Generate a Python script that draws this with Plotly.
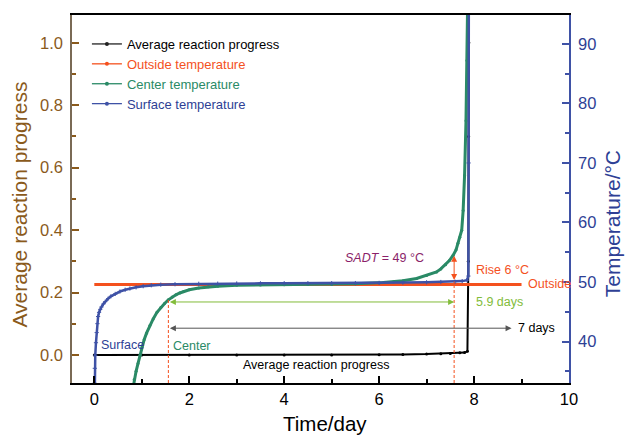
import plotly.graph_objects as go

# ---------------- data ----------------
time_progress = [0, 1, 2, 3, 4, 5, 6, 6.5, 7, 7.3, 7.5, 7.7, 7.8, 7.86, 7.88, 7.885, 7.89]
progress      = [0, 0, 0, 0, 0, 0.0005, 0.001, 0.002, 0.003, 0.004, 0.005, 0.007, 0.008, 0.012, 0.3, 0.7, 1.0]

time_outside = [0, 9.0]
temp_outside = [49.6, 49.6]

time_center = [0.8, 0.84, 0.88, 0.92, 0.96, 1.0, 1.05, 1.1, 1.17, 1.24, 1.32, 1.4, 1.48, 1.56, 1.64, 1.72,
               1.8, 1.88, 2.0, 2.2, 2.4, 2.6, 3.0, 3.5, 4.0, 4.5, 5.0, 5.5, 6.09, 6.3, 6.5, 6.79,
               7.0, 7.21, 7.3, 7.4, 7.48, 7.56, 7.62, 7.66, 7.7, 7.74, 7.77, 7.8, 7.83, 7.85, 7.87]
temp_center = [31.5, 33.6, 35.0, 36.3, 37.7, 39.0, 40.3, 41.4, 42.7, 43.8, 44.9, 45.7, 46.4, 47.0, 47.5, 47.85,
               48.15, 48.4, 48.7, 49.0, 49.2, 49.3, 49.45, 49.5, 49.55, 49.58, 49.6, 49.7, 49.9, 50.0, 50.2, 50.6,
               51.1, 51.7, 52.2, 52.9, 53.6, 54.5, 55.4, 56.5, 57.5, 58.7, 62.0, 67.9, 77.1, 87.2, 100.0]

time_surface = [0, 0.005, 0.01, 0.02, 0.035, 0.05, 0.065, 0.08, 0.1, 0.125, 0.15, 0.19, 0.23, 0.29, 0.35,
                0.44, 0.54, 0.65, 0.75, 0.88, 1.03, 1.2, 1.4, 1.7, 2.2, 2.6, 3.0, 3.5, 4.0, 4.5, 5.0, 5.5,
                6.0, 6.5, 7.0, 7.3, 7.6, 7.75, 7.85, 7.88, 7.885, 7.89]
temp_surface = [25.0, 33.0, 35.5, 37.7, 39.8, 41.5, 43.0, 44.2, 44.9, 45.4, 45.8, 46.3, 46.7, 47.2, 47.6,
                48.0, 48.4, 48.7, 48.9, 49.1, 49.3, 49.45, 49.55, 49.63, 49.7, 49.72, 49.75, 49.77, 49.8, 49.8, 49.8, 49.82,
                49.85, 49.9, 49.95, 50.0, 50.05, 50.15, 50.3, 51.0, 70.0, 100.0]

x_ticks = [0, 2, 4, 6, 8, 10]
left_ticks = [0.0, 0.2, 0.4, 0.6, 0.8, 1.0]
right_ticks = [40, 50, 60, 70, 80, 90]

# annotation anchors (data units)
day_start = 1.56
day_sadt = 7.58
day_seven_end = 8.79
temp_center_at_start = 47.0
temp_rise_low = 50.1
temp_rise_high = 54.4
arrow59_level = 0.170
arrow7_level = 0.086

# ---------------- styling ----------------
FONT = "Liberation Sans, Arial, Helvetica, sans-serif"
BROWN = "#8a5a1c"
BLUE = "#2e3f95"
BLUE_LINE = "#3f52a6"
RED = "#f4511e"
GREEN = "#2a8a66"
LGREEN = "#82bc3a"
PURPLE = "#8b1f6a"

X_RANGE = [-0.47, 10.0]
Y_RANGE = [-0.0895, 1.089]
Y2_RANGE = [33.03, 94.86]

fig = go.Figure()

fig.add_trace(go.Scatter(
    x=time_progress, y=progress, yaxis="y", mode="lines+markers", showlegend=False,
    line=dict(color="black", width=2), marker=dict(size=3, color="black")))
fig.add_trace(go.Scatter(
    x=time_outside, y=temp_outside, yaxis="y2", mode="lines", showlegend=False,
    line=dict(color=RED, width=3)))
fig.add_trace(go.Scatter(
    x=time_center, y=temp_center, yaxis="y2", mode="lines+markers", showlegend=False,
    line=dict(color=GREEN, width=3), marker=dict(size=3, color=GREEN)))
fig.add_trace(go.Scatter(
    x=time_surface, y=temp_surface, yaxis="y2", mode="lines+markers", showlegend=False,
    line=dict(color=BLUE_LINE, width=2.5), marker=dict(size=3, color=BLUE_LINE, symbol="cross-thin",
                                                     line=dict(width=1, color=BLUE_LINE))))

# legend entries (thin line with a dot, as in the reference)
legend_items = [("Average reaction progress", "#222222", "black"),
                ("Outside temperature", RED, RED),
                ("Center temperature", GREEN, GREEN),
                ("Surface temperature", BLUE_LINE, BLUE)]
for name, lc, tc in legend_items:
    fig.add_trace(go.Scatter(
        x=[None], y=[None], mode="lines+markers",
        name=f'<span style="color:{tc}">{name}</span>',
        line=dict(color=lc, width=1.3), marker=dict(size=4, color=lc)))

# dashed guide lines
fig.add_shape(type="line", xref="x", yref="y2", x0=day_start, x1=day_start,
              y0=Y2_RANGE[0], y1=temp_center_at_start,
              line=dict(color=RED, width=1, dash="3px,2px"))
fig.add_shape(type="line", xref="x", yref="y2", x0=day_sadt, x1=day_sadt,
              y0=Y2_RANGE[0], y1=temp_rise_low,
              line=dict(color=RED, width=1, dash="3px,2px"))

anns = []
def darrow(x0, y0, x1, y1, yref, color):
    return dict(x=x1, y=y1, ax=x0, ay=y0, xref="x", yref=yref, axref="x", ayref=yref,
                text="", showarrow=True, arrowside="end+start", arrowhead=2,
                arrowsize=1.2, arrowwidth=1, arrowcolor=color, standoff=0, startstandoff=0)

anns.append(darrow(day_start, arrow59_level, day_sadt, arrow59_level, "y", LGREEN))
anns.append(darrow(day_start, arrow7_level, day_seven_end, arrow7_level, "y", "#555555"))
anns.append(darrow(day_sadt, temp_rise_low, day_sadt, temp_rise_high, "y2", RED))

def txt(x, y, yref, s, color, xanchor="left", size=12.5):
    return dict(x=x, y=y, xref="x", yref=yref, text=s, showarrow=False, xanchor=xanchor,
                yanchor="middle", font=dict(family=FONT, size=size, color=color))

anns.append(txt(6.12, 54.1, "y2", "<i>SADT</i> = 49 °C", PURPLE, "center"))
anns.append(txt(8.0, 52.0, "y2", "Rise 6 °C", RED))
anns.append(txt(9.1, 49.67, "y2", "Outside", RED))
anns.append(txt(8.0, arrow59_level, "y", "5.9 days", LGREEN))
anns.append(txt(8.88, arrow7_level, "y", "7 days", "black"))
anns.append(txt(0.09, 0.033, "y", "Surface", BLUE))
anns.append(txt(1.62, 0.030, "y", "Center", GREEN))
anns.append(txt(4.68, -0.031, "y", "Average reaction progress", "black", "center"))

# axis titles (placed as in the reference)
anns.append(dict(x=-0.1046, y=0.485, xref="paper", yref="paper", text="Average reaction progress",
                 textangle=-90, showarrow=False, xanchor="center", yanchor="middle",
                 font=dict(family=FONT, size=21, color=BROWN)))
anns.append(dict(x=1.087, y=0.432, xref="paper", yref="paper", text="Temperature/°C",
                 textangle=-90, showarrow=False, xanchor="center", yanchor="middle",
                 font=dict(family=FONT, size=21, color=BLUE)))
anns.append(dict(x=0.510, y=-0.110, xref="paper", yref="paper", text="Time/day",
                 showarrow=False, xanchor="center", yanchor="middle",
                 font=dict(family=FONT, size=20.5, color="black")))

fig.update_layout(
    width=625, height=436,
    margin=dict(l=72, r=56, t=15, b=53),
    paper_bgcolor="white", plot_bgcolor="white",
    font=dict(family=FONT, size=16, color="black"),
    showlegend=True,
    legend=dict(x=0.030, y=0.962, xanchor="left", yanchor="top",
                bgcolor="rgba(0,0,0,0)", font=dict(family=FONT, size=13, color="black"),
                tracegroupgap=0, itemwidth=30),
    annotations=anns,
    xaxis=dict(range=X_RANGE, tickvals=x_ticks, ticks="inside", ticklen=7, tickwidth=1.5,
               tickcolor="black", showline=True, linecolor="black", linewidth=1.5, mirror=True,
               showgrid=False, zeroline=False,
               minor=dict(dtick=1, tick0=0, ticks="inside", ticklen=4, tickcolor="black", showgrid=False),
               tickfont=dict(family=FONT, size=16.5, color="black")),
    yaxis=dict(range=Y_RANGE, tickvals=left_ticks, tickformat=".1f", ticks="inside", ticklen=7,
               tickwidth=1.5, tickcolor=BROWN, showline=True, linecolor="#7a6a55", linewidth=1.5,
               showgrid=False, zeroline=False,
               minor=dict(dtick=0.1, tick0=0, ticks="inside", ticklen=4, tickcolor=BROWN, showgrid=False),
               tickfont=dict(family=FONT, size=16.5, color=BROWN), ticklabelstandoff=4),
    yaxis2=dict(range=Y2_RANGE, overlaying="y", side="right", tickvals=right_ticks, ticks="inside",
                ticklen=7, tickwidth=1.5, tickcolor=BLUE_LINE, showline=True, linecolor=BLUE_LINE,
                linewidth=1.5, showgrid=False, zeroline=False,
                minor=dict(dtick=5, tick0=0, ticks="inside", ticklen=4, tickcolor=BLUE_LINE, showgrid=False),
                tickfont=dict(family=FONT, size=16.5, color=BLUE), ticklabelstandoff=4),
)

fig.write_html("out.html")
